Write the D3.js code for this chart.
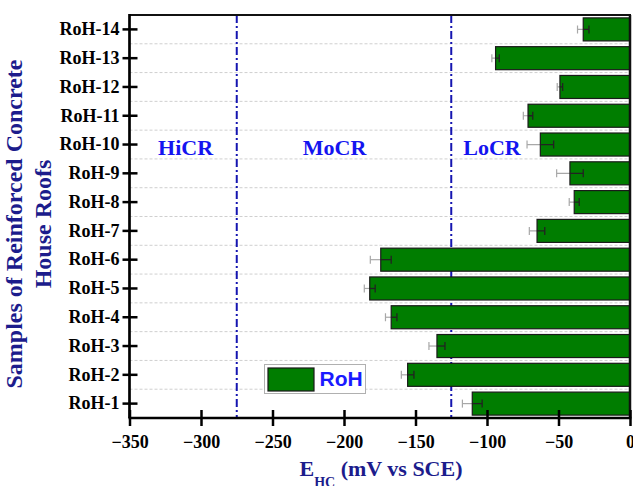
<!DOCTYPE html>
<html><head><meta charset="utf-8">
<script src="https://cdn.jsdelivr.net/npm/d3@7"></script>
<style>body{margin:0;background:#fff}svg{display:block}</style>
</head><body>
<svg id="chart" width="633" height="486"></svg>
<script>
const categories = ["RoH-1","RoH-2","RoH-3","RoH-4","RoH-5","RoH-6","RoH-7","RoH-8","RoH-9","RoH-10","RoH-11","RoH-12","RoH-13","RoH-14"];
const values = [-110.3,-155.5,-135.0,-167.0,-182.0,-174.3,-65.0,-39.0,-42.0,-62.7,-71.3,-49.0,-94.0,-32.7];
const errors = [6.9,4.4,5.6,4.0,3.8,7.3,5.4,3.5,9.3,9.3,3.3,1.9,2.6,4.0];
const xTicks = [-350,-300,-250,-200,-150,-100,-50,0];
const thresholds = [-275,-125];
const regionLabels = ["HiCR","MoCR","LoCR"];
const regionLabelAt = [-310.8,-206.6,-96.5];
const seriesName = "RoH";

const svg = d3.select("#chart");
const L = 129.5, R = 630, T = 15, B = 418;
const x = d3.scaleLinear().domain([-350,0]).range([L,R]);
const y = d3.scaleBand().domain(categories.slice().reverse()).range([T,B]).paddingInner(0.2).paddingOuter(0.1);
const step = y.step();

const serif = "'Liberation Serif','Times New Roman',serif";
const sans = "'Liberation Sans',Arial,sans-serif";

svg.append("defs").append("clipPath").attr("id","clip")
  .append("rect").attr("x",L).attr("y",T).attr("width",R-L).attr("height",B-T);

const bounds = d3.range(1, categories.length).map(i => T + i*step);
svg.append("g").selectAll("line").data(bounds).join("line")
  .attr("x1",L).attr("x2",R).attr("y1",d=>d).attr("y2",d=>d)
  .attr("stroke","#cfcfcf").attr("stroke-width",1).attr("stroke-dasharray","3,2");

const plot = svg.append("g").attr("clip-path","url(#clip)");

plot.append("g").selectAll("line").data(thresholds).join("line")
  .attr("x1",d=>x(d)).attr("x2",d=>x(d)).attr("y1",T).attr("y2",B)
  .attr("stroke","#1515b0").attr("stroke-width",2).attr("stroke-dasharray","8,3,2,3");

svg.append("g").selectAll("text").data(regionLabels).join("text")
  .attr("x",(d,i)=>x(regionLabelAt[i])).attr("y",154.5)
  .attr("text-anchor","middle").attr("font-family",serif).attr("font-weight","bold")
  .attr("font-size",22).attr("fill","#1414f0").text(d=>d);

const data = categories.map((c,i)=>({c, v: values[i], e: errors[i]}));

const eb = plot.append("g");
data.forEach(d => {
  const yc = y(d.c) + y.bandwidth()/2;
  eb.append("line").attr("x1",x(d.v-d.e)).attr("x2",x(d.v)).attr("y1",yc).attr("y2",yc)
    .attr("stroke","#a8a8a8").attr("stroke-width",1.2);
  eb.append("line").attr("x1",x(d.v-d.e)).attr("x2",x(d.v-d.e)).attr("y1",yc-4).attr("y2",yc+4)
    .attr("stroke","#a8a8a8").attr("stroke-width",1.2);
});

plot.append("g").selectAll("rect").data(data).join("rect")
  .attr("x",d=>x(d.v)).attr("width",d=>x(0)-x(d.v)+4)
  .attr("y",d=>y(d.c)).attr("height",y.bandwidth())
  .attr("fill","#007d00").attr("stroke","#1a1a1a").attr("stroke-width",1.2);

const eb2 = plot.append("g");
data.forEach(d => {
  const yc = y(d.c) + y.bandwidth()/2;
  eb2.append("line").attr("x1",x(d.v)).attr("x2",x(d.v+d.e)).attr("y1",yc).attr("y2",yc)
    .attr("stroke","#222").attr("stroke-width",1.3);
  eb2.append("line").attr("x1",x(d.v+d.e)).attr("x2",x(d.v+d.e)).attr("y1",yc-4).attr("y2",yc+4)
    .attr("stroke","#222").attr("stroke-width",1.3);
});

svg.append("line").attr("x1",L).attr("x2",R+1).attr("y1",T).attr("y2",T).attr("stroke","#111").attr("stroke-width",2.2);
svg.append("line").attr("x1",R).attr("x2",R).attr("y1",T).attr("y2",B).attr("stroke","#111").attr("stroke-width",2.5);

const xAxis = svg.append("g").attr("transform",`translate(0,${B})`)
  .call(d3.axisBottom(x).tickValues(xTicks).tickSize(8).tickFormat(d=>d3.format("d")(d).replace("-","\u2212")));
xAxis.select(".domain").attr("stroke","#000").attr("stroke-width",2.7).attr("d",`M${L-1},0H${R+1.3}`);
xAxis.selectAll(".tick line").attr("y1",-8).attr("y2",8).attr("stroke","#000").attr("stroke-width",2.5);
xAxis.selectAll(".tick text").attr("y",17).attr("dy","0.71em").attr("font-family",serif).attr("font-weight","bold").attr("font-size",18).attr("fill","#000");

const yAxis = svg.append("g").attr("transform",`translate(${L},0)`)
  .call(d3.axisLeft(y).tickSize(7).tickPadding(10));
yAxis.select(".domain").attr("stroke","#000").attr("stroke-width",2.7).attr("d",`M0,${T-1}V${B}`);
yAxis.selectAll(".tick line").attr("x1",-7).attr("x2",8).attr("stroke","#000").attr("stroke-width",2.5);
yAxis.selectAll(".tick text").attr("x",-10).attr("font-family",serif).attr("font-weight","bold").attr("font-size",18).attr("fill","#000");

const lg = svg.append("g");
lg.append("rect").attr("x",264.5).attr("y",364.5).attr("width",101).attr("height",29)
  .attr("fill","#fff").attr("stroke","#b0b0b0").attr("stroke-width",1);
lg.append("rect").attr("x",268).attr("y",368).attr("width",46).attr("height",23)
  .attr("fill","#007d00").attr("stroke","#1a1a1a").attr("stroke-width",1.2);
lg.append("text").attr("x",319.5).attr("y",386).attr("font-family",sans).attr("font-weight","bold")
  .attr("font-size",21).attr("fill","#1a1aff").text(seriesName);

const xt = svg.append("text").attr("x",381).attr("y",476).attr("text-anchor","middle")
  .attr("font-family",serif).attr("font-weight","bold").attr("font-size",22).attr("fill","#1c1c8c");
xt.append("tspan").text("E");
xt.append("tspan").attr("font-size",14).attr("dy",10.5).text("HC");
xt.append("tspan").attr("dy",-10.5).text(" (mV vs SCE)");

const yt = svg.append("text").attr("transform","translate(0,224) rotate(-90)")
  .attr("text-anchor","middle").attr("font-family",serif).attr("font-weight","bold").attr("font-size",24).attr("fill","#1c1c8c");
yt.append("tspan").attr("x",0).attr("y",22).text("Samples of Reinforced Concrete");
yt.append("tspan").attr("x",0).attr("y",50.5).text("House Roofs");
</script>
</body></html>
